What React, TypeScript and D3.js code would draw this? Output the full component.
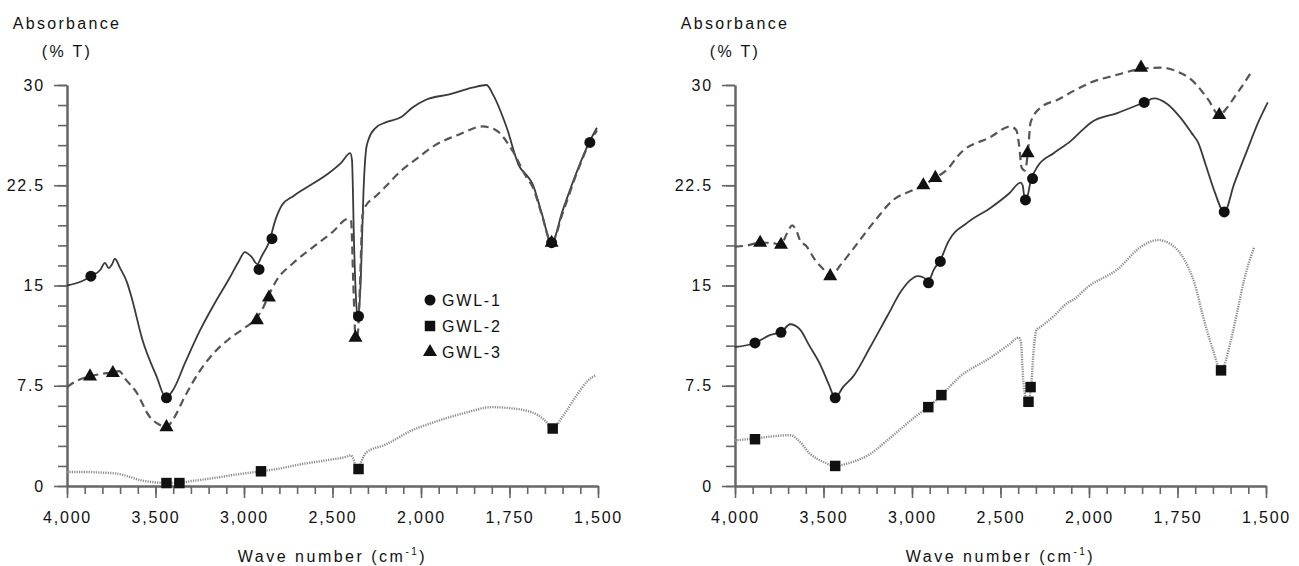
import React, { useRef, useEffect } from "react";
import * as d3 from "d3";

type Pt = [number, number];

// axis labels
const xTickValues = [4000, 3500, 3000, 2500, 2000, 1750, 1500];
const yTickValues = [0, 7.5, 15, 22.5, 30];
const seriesNames = ["GWL-1", "GWL-2", "GWL-3"];

// left panel, [wave number, absorbance]
const leftGwl1: Pt[] = [
  [4000, 15.0], [3920, 15.3], [3865, 15.7], [3810, 16.2], [3786, 16.7], [3765, 16.3], [3745, 16.6],
  [3730, 17.0], [3700, 16.3], [3660, 15.2], [3635, 14.1], [3573, 10.9], [3494, 8.2], [3440, 6.6],
  [3400, 7.2], [3330, 9.3], [3250, 11.6], [3160, 13.8], [3084, 15.5], [3030, 16.8], [2995, 17.5],
  [2955, 17.1], [2925, 16.6], [2900, 17.2], [2860, 18.2], [2820, 20.0], [2786, 21.0], [2720, 21.7],
  [2651, 22.3], [2522, 23.4], [2450, 24.2], [2400, 24.9], [2390, 24.4], [2378, 18.0], [2365, 13.5],
  [2355, 12.5], [2340, 15.5], [2325, 22.0], [2310, 25.2], [2297, 25.9], [2256, 26.8], [2200, 27.2],
  [2112, 27.6], [2050, 28.3], [1986, 28.9], [1920, 29.3], [1855, 29.8], [1815, 30.0], [1795, 29.2],
  [1759, 26.9], [1722, 23.9], [1700, 23.2], [1685, 22.6], [1660, 20.5], [1631, 18.2], [1600, 20.6],
  [1560, 23.5], [1525, 25.7], [1503, 26.8],
];
const leftGwl2: Pt[] = [
  [4000, 1.05], [3900, 1.05], [3800, 1.0], [3730, 0.95], [3650, 0.7], [3590, 0.45], [3520, 0.3],
  [3438, 0.22], [3365, 0.25], [3280, 0.4], [3168, 0.6], [3050, 0.85], [2904, 1.1], [2800, 1.3],
  [2690, 1.6], [2522, 1.95], [2420, 2.2], [2398, 2.3], [2385, 2.1], [2365, 1.4], [2353, 1.3],
  [2338, 1.8], [2310, 2.5], [2200, 3.1], [2045, 4.2], [1960, 4.8], [1872, 5.5], [1800, 5.9],
  [1760, 5.85], [1685, 5.5], [1650, 4.9], [1628, 4.3], [1600, 5.2], [1560, 6.8], [1528, 7.9], [1505, 8.3],
];
const leftGwl3: Pt[] = [
  [4000, 7.4], [3940, 7.9], [3870, 8.2], [3800, 8.4], [3741, 8.5], [3705, 8.6], [3670, 8.0], [3607, 7.0],
  [3534, 5.2], [3480, 4.6], [3438, 4.4], [3400, 5.0], [3330, 6.8], [3250, 8.6], [3160, 10.1],
  [3084, 11.0], [3000, 11.8], [2927, 12.6], [2890, 13.4], [2859, 14.3], [2820, 15.3], [2720, 16.7],
  [2617, 17.8], [2500, 19.0], [2410, 20.0], [2395, 19.8], [2382, 15.0], [2370, 11.2], [2358, 11.3],
  [2345, 15.0], [2330, 20.3], [2299, 21.2], [2280, 21.4], [2200, 22.4], [2120, 23.5], [2033, 24.4],
  [1960, 25.5], [1892, 26.3], [1826, 26.9], [1787, 26.6], [1742, 25.1], [1700, 23.0], [1685, 22.4],
  [1660, 20.4], [1631, 18.2], [1600, 20.4], [1560, 23.4], [1525, 25.6], [1503, 26.6],
];
const leftMarks1: Pt[] = [[3865, 15.7], [3438, 6.6], [2915, 16.2], [2842, 18.5], [2353, 12.7], [1631, 18.2], [1523, 25.7]];
const leftMarks2: Pt[] = [[3438, 0.22], [3365, 0.22], [2904, 1.1], [2353, 1.27], [1628, 4.3]];
const leftMarks3: Pt[] = [[3870, 8.2], [3741, 8.45], [3438, 4.4], [2927, 12.4], [2859, 14.1], [2370, 11.1], [1631, 18.2]];

// right panel
const rightGwl1: Pt[] = [
  [4000, 10.4], [3887, 10.7], [3800, 11.3], [3740, 11.5], [3689, 12.1], [3660, 12.0], [3632, 11.7],
  [3580, 10.5], [3519, 9.1], [3470, 7.6], [3434, 6.6], [3390, 7.4], [3332, 8.2], [3236, 10.4],
  [3140, 12.7], [3060, 14.6], [3010, 15.4], [2970, 15.7], [2935, 15.6], [2915, 15.4], [2895, 15.6],
  [2880, 16.1], [2840, 16.9], [2794, 18.3], [2687, 19.7], [2557, 20.8], [2450, 21.9], [2387, 22.7],
  [2375, 22.5], [2362, 21.4], [2345, 21.8], [2330, 22.8], [2319, 23.2], [2291, 23.9], [2200, 24.9],
  [2104, 25.8], [2040, 26.6], [1994, 27.2], [1920, 27.9], [1844, 28.7], [1816, 29.0], [1780, 28.6],
  [1740, 27.5], [1710, 26.4], [1692, 25.7], [1670, 24.0], [1645, 22.0], [1618, 20.5], [1590, 22.6],
  [1555, 25.0], [1522, 27.2], [1495, 28.7],
];
const rightGwl2: Pt[] = [
  [4000, 3.4], [3930, 3.5], [3887, 3.55], [3800, 3.7], [3689, 3.8], [3640, 3.4], [3575, 2.4], [3500, 1.8],
  [3434, 1.5], [3360, 1.7], [3236, 2.4], [3150, 3.3], [3066, 4.25], [2980, 5.2], [2908, 5.9], [2834, 6.8],
  [2727, 8.2], [2557, 9.6], [2450, 10.6], [2398, 11.1], [2385, 10.8], [2372, 8.0], [2355, 6.6],
  [2340, 6.5], [2325, 7.8], [2312, 10.3], [2295, 11.7], [2274, 11.9], [2200, 12.7], [2121, 13.7],
  [2087, 13.95], [2006, 14.9], [1920, 16.2], [1853, 17.9], [1805, 18.4], [1770, 18.1], [1730, 16.9],
  [1700, 15.0], [1680, 12.9], [1650, 10.2], [1627, 8.65], [1600, 10.8], [1580, 13.2], [1562, 15.4],
  [1533, 17.9],
];
const rightGwl3: Pt[] = [
  [4000, 17.9], [3930, 18.0], [3858, 18.2], [3800, 18.2], [3740, 18.05], [3710, 18.8], [3677, 19.5],
  [3650, 19.0], [3630, 18.3], [3600, 18.0], [3547, 16.9], [3500, 16.2], [3462, 15.7], [3400, 16.6],
  [3300, 18.3], [3200, 20.0], [3106, 21.4], [3000, 22.1], [2936, 22.5], [2868, 23.05], [2800, 23.7],
  [2727, 24.9], [2557, 26.1], [2444, 26.9], [2410, 26.6], [2395, 25.5], [2380, 23.8], [2362, 23.6],
  [2345, 25.0], [2330, 27.2], [2274, 28.3], [2177, 28.9], [2080, 29.6], [1994, 30.2], [1929, 30.7],
  [1853, 31.2], [1796, 31.3], [1750, 31.0], [1711, 30.4], [1663, 28.9], [1632, 27.75], [1610, 28.3],
  [1589, 29.1], [1560, 30.2], [1541, 31.0],
];
const rightMarks1: Pt[] = [[3887, 10.7], [3740, 11.5], [3434, 6.6], [2907, 15.2], [2840, 16.8], [2359, 21.4], [2319, 23.0], [1844, 28.7], [1618, 20.5]];
const rightMarks2: Pt[] = [[3887, 3.5], [3434, 1.5], [2908, 5.9], [2834, 6.8], [2342, 6.3], [2330, 7.4], [1627, 8.65]];
const rightMarks3: Pt[] = [[3858, 18.2], [3740, 18.05], [3462, 15.7], [2936, 22.5], [2868, 23.05], [2347, 24.9], [1853, 31.3], [1632, 27.75]];

const FONT = "'Liberation Sans', Arial, sans-serif";
const W = 531;
const H = 401;

const lineStyles = [
  { stroke: "#3a3a3a", width: 1.8, dash: "none" },
  { stroke: "#8a8a8a", width: 2.4, dash: "1.2,1.2" },
  { stroke: "#555", width: 2.2, dash: "8,5" },
];
const symbols = [
  d3.symbol().type(d3.symbolCircle).size(95),
  d3.symbol().type(d3.symbolSquare).size(110),
  d3.symbol().type(d3.symbolTriangle).size(85),
];

const Panel = ({ tx, lines, marks, legend }: { tx: number; lines: Pt[][]; marks: Pt[][]; legend: boolean }) => {
  const axisRef = useRef<SVGGElement>(null);
  const x = d3.scaleLinear().domain([4000, 2000, 1500]).range([0, (W * 4) / 6, W]);
  const y = d3.scaleLinear().domain([0, 30]).range([H, 0]);

  useEffect(() => {
    const g = d3.select(axisRef.current);
    g.selectAll("*").remove();
    const minorX = [...d3.range(4000, 2000, -100), ...d3.range(2000, 1499, -50)];
    const minorY = d3.range(0, 30.01, 1.5);

    g.append("g").attr("transform", `translate(0,${H})`)
      .call(d3.axisBottom(x).tickValues(minorX).tickSize(8).tickFormat(() => "").tickSizeOuter(0));
    g.append("g").attr("transform", `translate(0,${H})`)
      .call(d3.axisBottom(x).tickValues(xTickValues).tickSize(12).tickPadding(14).tickSizeOuter(0).tickFormat(d3.format(",")));
    g.append("g").call(d3.axisLeft(y).tickValues(minorY).tickSize(9).tickFormat(() => "").tickSizeOuter(0));
    g.append("g").call(d3.axisLeft(y).tickValues(yTickValues).tickSize(13).tickPadding(9).tickSizeOuter(0).tickFormat((d) => String(d)));

    g.selectAll("path.domain").attr("stroke", "#666").attr("stroke-width", 2);
    g.selectAll(".tick line").attr("stroke", "#666").attr("stroke-width", 1.6);
    g.selectAll(".tick text")
      .attr("fill", "#111")
      .style("font-family", FONT)
      .style("font-size", "16px")
      .style("letter-spacing", "1.8px");
  });

  const line = d3.line<Pt>().x((d) => x(d[0])).y((d) => y(d[1])).curve(d3.curveMonotoneX);

  return (
    <g transform={`translate(${tx},85)`}>
      <g ref={axisRef} />
      {lines.map((ln, i) => (
        <path key={i} d={line(ln) || ""} fill="none" stroke={lineStyles[i].stroke}
          strokeWidth={lineStyles[i].width} strokeDasharray={lineStyles[i].dash} />
      ))}
      {marks.map((ms, i) =>
        ms.map((m, j) => (
          <path key={`${i}-${j}`} d={symbols[i]() || ""} fill="#111"
            transform={`translate(${x(m[0])},${y(m[1])})`} />
        ))
      )}
      <g fontFamily={FONT} fontSize={16} fill="#111" style={{ letterSpacing: "2.3px" }}>
        <text x={0} y={-56} textAnchor="middle">Absorbance</text>
        <text x={0} y={-28} textAnchor="middle">(% T)</text>
        <text x={W / 2} y={H + 76} textAnchor="middle" style={{ letterSpacing: "2.5px" }}>
          Wave number (cm<tspan fontSize={10} dy={-7}>-1</tspan><tspan dy={7}>)</tspan>
        </text>
      </g>
      {legend &&
        seriesNames.map((n, i) => (
          <g key={n} transform={`translate(363,${215 + i * 26})`}>
            <path d={symbols[i]() || ""} fill="#111" />
            <text x={12} y={6} fontFamily={FONT} fontSize={16} fill="#111" style={{ letterSpacing: "1.8px" }}>{n}</text>
          </g>
        ))}
    </g>
  );
};

export default function App() {
  return (
    <svg width={1299} height={566} style={{ position: "absolute", left: 0, top: 0, background: "#fff" }}>
      <Panel tx={67} lines={[leftGwl1, leftGwl2, leftGwl3]} marks={[leftMarks1, leftMarks2, leftMarks3]} legend={true} />
      <Panel tx={735} lines={[rightGwl1, rightGwl2, rightGwl3]} marks={[rightMarks1, rightMarks2, rightMarks3]} legend={false} />
    </svg>
  );
}
